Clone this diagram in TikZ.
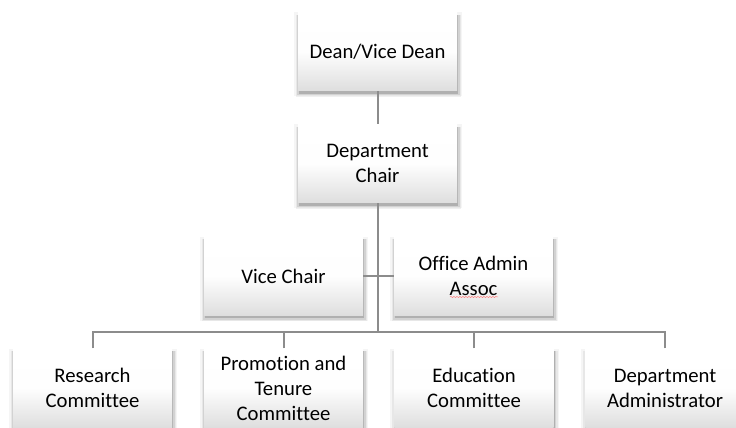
\documentclass[tikz,border=0pt]{standalone}
\usepackage{fontspec}
\setmainfont{Carlito}[Ligatures=CommonOff]
\usetikzlibrary{shadows,decorations.pathmorphing}
\definecolor{boxbot}{RGB}{222,222,222}
\definecolor{linegray}{RGB}{140,140,140}
\begin{document}
\begin{tikzpicture}[x=1pt,y=1pt,
  orgbox/.style={rectangle, minimum width=159pt, minimum height=79pt,
    top color=white, bottom color=boxbot, middle color=white!97!boxbot,
    align=center, inner sep=2pt,
    font=\fontsize{20.7}{25}\selectfont,
    drop shadow={shadow xshift=0.5pt, shadow yshift=-2.5pt, shadow scale=1.06, opacity=0.04, fill=black},
    drop shadow={shadow xshift=1pt, shadow yshift=-4pt, shadow scale=1.04, opacity=0.06, fill=black},
    drop shadow={shadow xshift=1pt, shadow yshift=-3.5pt, shadow scale=1.02, opacity=0.09, fill=black},
    drop shadow={shadow xshift=1pt, shadow yshift=-3pt, opacity=0.16, fill=black}},
  conn/.style={draw=linegray, line width=2pt}]
\useasboundingbox (0,0) rectangle (736,428);
\node[orgbox] (dean) at (377.5,376.5) {Dean/Vice Dean};
\node[orgbox] (chair) at (377.5,264.5) {Department\\Chair};
\node[orgbox] (vice) at (283.5,152) {Vice Chair};
\node[orgbox] (office) at (473.5,152) {Office Admin\\Assoc};
\node[orgbox] (research) at (92.5,40) {Research\\Committee};
\node[orgbox] (promo) at (283.5,40) {Promotion and\\Tenure\\Committee};
\node[orgbox] (edu) at (474,40) {Education\\Committee};
\node[orgbox] (admin) at (665,40) {Department\\Administrator};
\coordinate (bus) at (377.5,95.5);
\draw[conn] (dean.south) -- (chair.north);
\draw[conn] (chair.south) -- (bus);
\draw[conn] (vice.east) -- (office.west);
\draw[conn] (research.north) |- (bus);
\draw[conn] (admin.north) |- (bus);
\draw[conn] (promo.north) -- (promo.north |- bus);
\draw[conn] (edu.north) -- (edu.north |- bus);
\coordinate (sqa) at (450,131);
\coordinate (sqb) at (498,131);
\draw[red!50, line width=0.5pt, decorate, decoration={snake, amplitude=0.6pt, segment length=3pt}] (sqa) -- (sqb);
\end{tikzpicture}
\end{document}
